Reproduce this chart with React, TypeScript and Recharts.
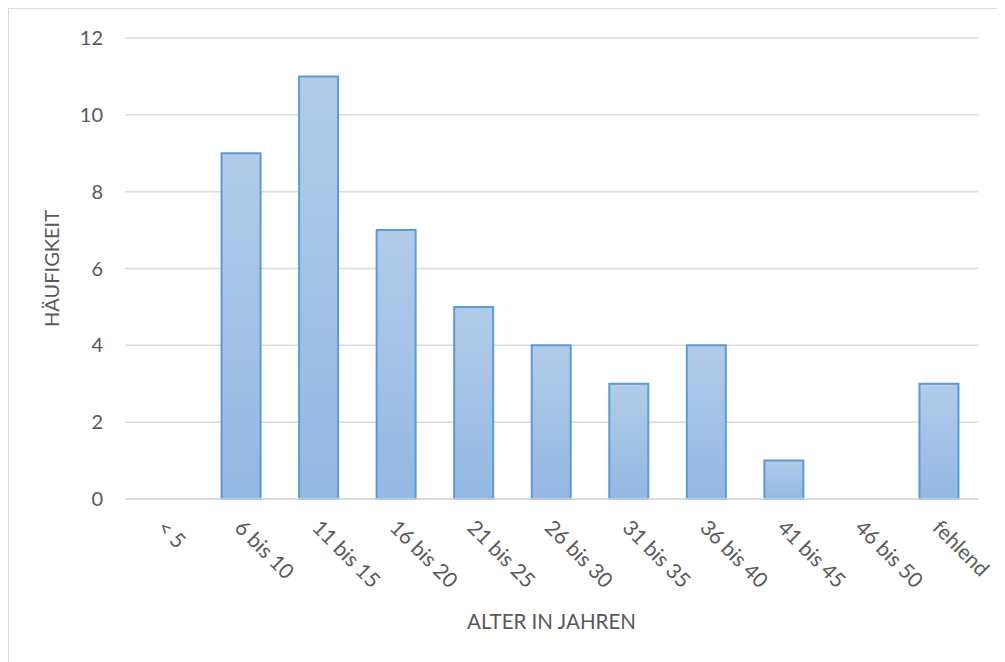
import React from "react";
import { BarChart, Bar, XAxis, YAxis, CartesianGrid, Label } from "recharts";

const categories = ["< 5", "6 bis 10", "11 bis 15", "16 bis 20", "21 bis 25", "26 bis 30", "31 bis 35", "36 bis 40", "41 bis 45", "46 bis 50", "fehlend"];
const counts = [0, 9, 11, 7, 5, 4, 3, 4, 1, 0, 3];
const yTicks = [0, 2, 4, 6, 8, 10, 12];

const data = categories.map((name, i) => ({ name, value: counts[i] }));

const FONT = "Lato, 'Open Sans', sans-serif";
const GRAY = "#595959";

// rotated category labels like excel
const AngledTick = (props: any) => {
    const { x, y, payload } = props;
    return (
        <g transform={`translate(${x + 4},${y + 10}) rotate(45)`}>
            <text x={0} y={0} dy="0.8em" textAnchor="start" fill={GRAY} fontSize={21} fontFamily={FONT}>
                {payload.value}
            </text>
        </g>
    );
};

const App = () => {
    return (
        <div style={{ width: 1000, height: 660, border: "1px solid #d9d9d9", boxSizing: "border-box", background: "#fff" }}>
            <BarChart width={998} height={658} data={data} margin={{ top: 29, right: 29, left: 0, bottom: 0 }}>
                <defs>
                    <linearGradient id="barFill" x1="0" y1="0" x2="0" y2="1">
                        <stop offset="0%" stopColor="#b2cbe9" />
                        <stop offset="100%" stopColor="#93b8e3" />
                    </linearGradient>
                </defs>
                <CartesianGrid vertical={false} stroke="#d9d9d9" strokeWidth={1.5} />
                <XAxis
                    dataKey="name"
                    interval={0}
                    tickLine={false}
                    axisLine={{ stroke: "#d9d9d9", strokeWidth: 1.5 }}
                    tick={<AngledTick />}
                    height={168}
                >
                    <Label value="ALTER IN JAHREN" position="insideBottom" offset={38} fill={GRAY} fontSize={20.5} fontFamily={FONT} />
                </XAxis>
                <YAxis
                    width={116}
                    domain={[0, 12]}
                    ticks={yTicks}
                    tickLine={false}
                    axisLine={false}
                    tickSize={0}
                    tickMargin={22}
                    tick={{ fill: GRAY, fontSize: 20, fontFamily: FONT }}
                >
                    <Label value="HÄUFIGKEIT" angle={-90} position="insideLeft" offset={43} fill={GRAY} fontSize={20} fontFamily={FONT} style={{ textAnchor: "middle" }} />
                </YAxis>
                <Bar dataKey="value" barSize={39} fill="url(#barFill)" stroke="#5b9bd5" strokeWidth={2} isAnimationActive={false} />
            </BarChart>
        </div>
    );
};

export default App;
